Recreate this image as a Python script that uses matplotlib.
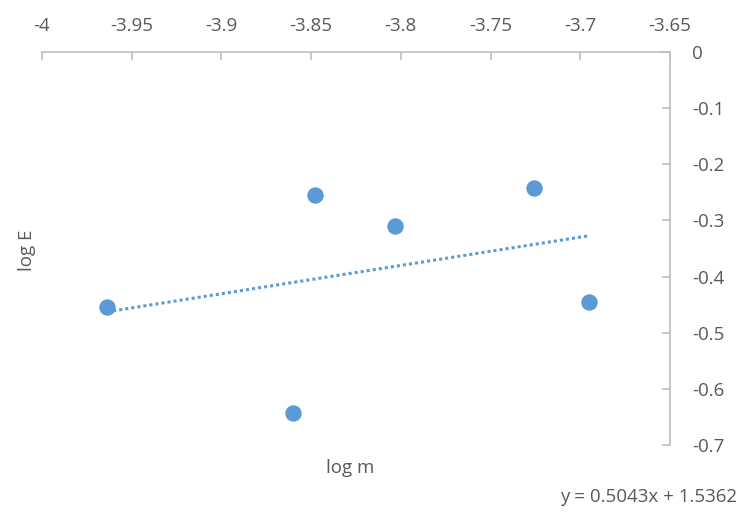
import numpy as np
import matplotlib.pyplot as plt

# data
log_m = [-3.9637, -3.860, -3.848, -3.803, -3.726, -3.695]
log_E = [-0.454, -0.643, -0.255, -0.310, -0.242, -0.445]
slope = 0.5043
intercept = 1.5362
x_ticks = [-4, -3.95, -3.9, -3.85, -3.8, -3.75, -3.7, -3.65]
y_ticks = [0, -0.1, -0.2, -0.3, -0.4, -0.5, -0.6, -0.7]

plt.rcParams['font.family'] = ['Open Sans', 'DejaVu Sans']
text_color = '#595959'
axis_color = '#BFBFBF'
blue = '#5B9BD5'

fig = plt.figure(figsize=(7.43, 5.13), dpi=100)
ax = fig.add_axes([42 / 743, 1 - 445 / 513, (670 - 42) / 743, (445 - 52) / 513])

ax.scatter(log_m, log_E, s=140, color=blue, zorder=3, linewidths=0)

# linear trendline
xs = np.array([min(log_m), max(log_m)])
ax.plot(xs, slope * xs + intercept, color=blue, linestyle=(0, (1, 1)), linewidth=2.2, zorder=2)

ax.set_xlim(-4, -3.65)
ax.set_ylim(-0.7, 0)
ax.set_xticks(x_ticks)
ax.set_xticklabels([f'{t:g}' for t in x_ticks])
ax.set_yticks(y_ticks)
ax.set_yticklabels([f'{t:g}' for t in y_ticks])

# Excel style: x axis on top (crosses at 0), y axis on the right
ax.xaxis.tick_top()
ax.yaxis.tick_right()
for side in ['bottom', 'left']:
    ax.spines[side].set_visible(False)
for side in ['top', 'right']:
    ax.spines[side].set_color(axis_color)
    ax.spines[side].set_linewidth(1.2)
ax.tick_params(axis='x', direction='in', length=6, color=axis_color, width=1.2,
               labelsize=13.5, labelcolor=text_color, pad=12)
ax.tick_params(axis='y', direction='in', length=6, color=axis_color, width=1.2,
               labelsize=13.5, labelcolor=text_color, pad=16)
for lbl in ax.get_yticklabels():
    lbl.set_horizontalalignment('left')

fig.text(350 / 743, 1 - 468 / 513, 'log m', ha='center', va='center', fontsize=13.5, color=text_color)
fig.text(27 / 743, 1 - 250 / 513, 'log E', ha='center', va='center', rotation=90, fontsize=13.5, color=text_color)
fig.text(737 / 743, 1 - 497 / 513, f'y = {slope}x + {intercept}', ha='right', va='center',
         fontsize=13.5, color=text_color)

plt.savefig('out.png', dpi=100)
